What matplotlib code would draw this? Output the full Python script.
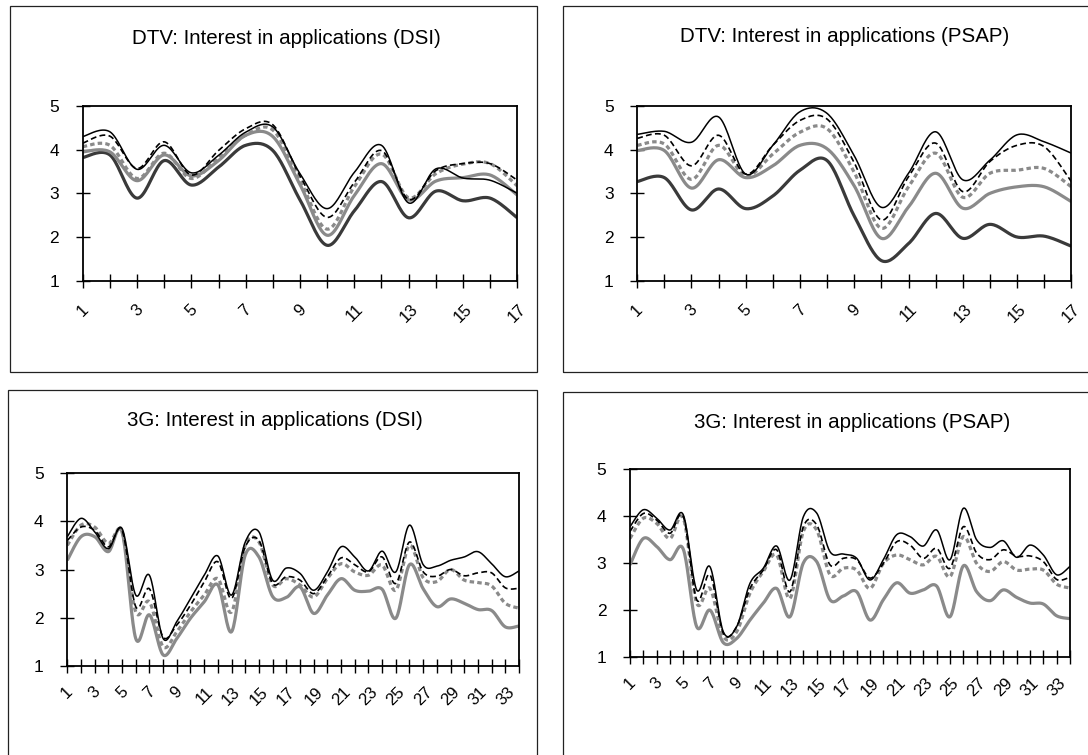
import numpy as np
import matplotlib
matplotlib.use("Agg")
import matplotlib.pyplot as plt
from matplotlib.patches import Rectangle

plt.rcParams['font.family'] = ['Liberation Sans', 'DejaVu Sans']

W, H = 1088, 755

# ── data ──────────────────────────────────────────
dtv_x = list(range(1, 18))
g3_x = list(range(1, 35))

# DTV: Interest in applications (DSI)
dtv_dsi_a = [4.3, 4.41, 3.55, 4.1, 3.47, 3.87, 4.4, 4.52, 3.45, 2.65, 3.48, 4.1, 2.78, 3.56, 3.35, 3.3, 3.0]
dtv_dsi_b = [4.15, 4.31, 3.57, 4.18, 3.42, 3.98, 4.48, 4.57, 3.4, 2.45, 3.25, 3.98, 2.86, 3.52, 3.68, 3.68, 3.3]
dtv_dsi_c = [4.07, 4.1, 3.34, 3.92, 3.34, 3.82, 4.33, 4.45, 3.3, 2.18, 3.15, 3.9, 2.9, 3.45, 3.67, 3.68, 3.17]
dtv_dsi_d = [3.95, 3.95, 3.29, 3.88, 3.4, 3.75, 4.33, 4.3, 3.2, 2.04, 2.95, 3.68, 2.85, 3.28, 3.36, 3.42, 2.96]
dtv_dsi_e = [3.82, 3.88, 2.89, 3.75, 3.19, 3.6, 4.1, 3.98, 2.85, 1.81, 2.6, 3.27, 2.44, 3.05, 2.83, 2.89, 2.44]

# DTV: Interest in applications (PSAP)
dtv_psap_a = [4.35, 4.42, 4.17, 4.75, 3.44, 4.1, 4.87, 4.83, 3.86, 2.68, 3.46, 4.41, 3.31, 3.76, 4.34, 4.18, 3.92]
dtv_psap_b = [4.26, 4.33, 3.63, 4.33, 3.44, 4.1, 4.67, 4.7, 3.7, 2.39, 3.38, 4.15, 3.04, 3.73, 4.1, 4.07, 3.27]
dtv_psap_c = [4.1, 4.13, 3.32, 4.1, 3.4, 3.9, 4.4, 4.48, 3.48, 2.2, 3.15, 3.92, 2.91, 3.46, 3.53, 3.57, 3.15]
dtv_psap_d = [3.98, 3.98, 3.12, 3.77, 3.36, 3.63, 4.1, 4.02, 3.17, 1.97, 2.69, 3.46, 2.66, 3.0, 3.15, 3.15, 2.81]
dtv_psap_e = [3.27, 3.36, 2.62, 3.1, 2.65, 2.94, 3.53, 3.75, 2.48, 1.46, 1.85, 2.54, 1.97, 2.29, 2.0, 2.02, 1.79]

# 3G: Interest in applications (DSI)
g3_dsi_a = [3.68, 4.06, 3.78, 3.43, 3.85, 2.47, 2.88, 1.57, 1.92, 2.4, 2.88, 3.28, 2.47, 3.57, 3.78, 2.78, 3.03,
            2.92, 2.57, 2.95, 3.47, 3.26, 2.97, 3.38, 2.95, 3.92, 3.1, 3.07, 3.19, 3.26, 3.37, 3.12, 2.85, 2.97]
g3_dsi_b = [3.6, 3.88, 3.81, 3.47, 3.81, 2.23, 2.6, 1.6, 1.85, 2.26, 2.74, 3.16, 2.4, 3.47, 3.6, 2.71, 2.85,
            2.78, 2.5, 2.85, 3.24, 3.1, 2.95, 3.26, 2.71, 3.57, 2.95, 2.86, 3.0, 2.87, 2.93, 2.93, 2.62, 2.61]
g3_dsi_c = [3.5, 3.92, 3.88, 3.54, 3.78, 2.12, 2.33, 1.4, 1.71, 2.12, 2.47, 2.81, 2.12, 3.5, 3.57, 2.68, 2.81,
            2.68, 2.43, 2.81, 3.12, 2.95, 2.88, 3.09, 2.57, 3.5, 2.83, 2.75, 3.0, 2.78, 2.73, 2.66, 2.3, 2.2]
g3_dsi_d = [3.19, 3.68, 3.68, 3.37, 3.78, 1.57, 2.06, 1.23, 1.57, 1.99, 2.33, 2.68, 1.71, 3.3, 3.26, 2.44, 2.42,
            2.64, 2.09, 2.47, 2.81, 2.57, 2.55, 2.59, 1.99, 3.1, 2.6, 2.23, 2.39, 2.3, 2.17, 2.15, 1.81, 1.83]

# 3G: Interest in applications (PSAP)
g3_psap_a = [3.77, 4.13, 3.95, 3.7, 4.02, 2.43, 2.92, 1.54, 1.65, 2.57, 2.89, 3.36, 2.64, 3.98, 4.06, 3.24, 3.19,
             3.1, 2.64, 3.07, 3.6, 3.56, 3.36, 3.7, 3.07, 4.16, 3.49, 3.33, 3.47, 3.12, 3.38, 3.17, 2.75, 2.93]
g3_psap_b = [3.67, 4.05, 3.91, 3.63, 3.98, 2.22, 2.75, 1.51, 1.65, 2.46, 2.85, 3.28, 2.39, 3.77, 3.81, 2.96, 3.1,
             3.07, 2.68, 2.99, 3.45, 3.38, 3.1, 3.31, 2.89, 3.77, 3.21, 3.07, 3.28, 3.14, 3.15, 3.03, 2.65, 2.7]
g3_psap_c = [3.52, 3.95, 3.84, 3.52, 3.95, 2.15, 2.46, 1.44, 1.54, 2.36, 2.82, 3.17, 2.25, 3.67, 3.7, 2.75, 2.89,
             2.85, 2.46, 2.99, 3.17, 3.07, 2.96, 3.14, 2.71, 3.56, 2.99, 2.82, 3.03, 2.85, 2.87, 2.85, 2.55, 2.47]
g3_psap_d = [2.96, 3.52, 3.35, 3.07, 3.29, 1.65, 2.0, 1.31, 1.4, 1.79, 2.15, 2.46, 1.86, 3.0, 3.03, 2.22, 2.3,
             2.39, 1.79, 2.22, 2.58, 2.36, 2.43, 2.51, 1.86, 2.94, 2.39, 2.2, 2.43, 2.27, 2.15, 2.13, 1.88, 1.82]

titles = ["DTV: Interest in applications (DSI)", "DTV: Interest in applications (PSAP)",
          "3G: Interest in applications (DSI)", "3G: Interest in applications (PSAP)"]

# ── styles: thin black, black dashed, grey dashed, grey, dark grey ──
styles = [
    dict(color="black", lw=1.1),
    dict(color="black", lw=1.2, dashes=(3.5, 2.0)),
    dict(color="#8a8a8a", lw=2.3, dashes=(1.4, 1.0)),
    dict(color="#8a8a8a", lw=2.3),
    dict(color="#3a3a3a", lw=2.3),
]


def smooth(x, y, n=20):
    # Catmull-Rom curve through the points, like Excel's smoothed line
    x = np.asarray(x, float)
    y = np.asarray(y, float)
    px = np.concatenate([[x[0]], x, [x[-1]]])
    py = np.concatenate([[y[0]], y, [y[-1]]])
    xs, ys = [], []
    t = np.linspace(0, 1, n, endpoint=False)
    for i in range(1, len(px) - 2):
        for p, out in ((px, xs), (py, ys)):
            p0, p1, p2, p3 = p[i - 1], p[i], p[i + 1], p[i + 2]
            m1 = (p2 - p0) / 2
            m2 = (p3 - p1) / 2
            h00 = 2 * t**3 - 3 * t**2 + 1
            h10 = t**3 - 2 * t**2 + t
            h01 = -2 * t**3 + 3 * t**2
            h11 = t**3 - t**2
            out.append(h00 * p1 + h10 * m1 + h01 * p2 + h11 * m2)
    xs.append([x[-1]])
    ys.append([y[-1]])
    return np.concatenate(xs), np.concatenate(ys)


fig = plt.figure(figsize=(W / 100, H / 100), dpi=100)

# outer chart frames (pixels: x0, y0, x1, y1)
frames = [(10, 6, 537, 372), (563, 6, 1110, 372), (8, 390, 537, 800), (563, 392, 1110, 800)]
for x0, y0, x1, y1 in frames:
    fig.patches.append(Rectangle((x0 / W, 1 - y1 / H), (x1 - x0) / W, (y1 - y0) / H,
                                 transform=fig.transFigure, fill=False,
                                 edgecolor="#222222", lw=0.9))

# plot areas (pixels: left, right, top, bottom)
boxes = [(82.7, 517.3, 106, 280.7), (637.2, 1071.3, 106, 280.7),
         (67.3, 519, 473, 666), (630, 1070, 468.7, 657.3)]
title_pos = [(286, 39), (845, 37), (275, 421), (852, 423)]

panels = [
    (dtv_x, [dtv_dsi_a, dtv_dsi_b, dtv_dsi_c, dtv_dsi_d, dtv_dsi_e]),
    (dtv_x, [dtv_psap_a, dtv_psap_b, dtv_psap_c, dtv_psap_d, dtv_psap_e]),
    (g3_x, [g3_dsi_a, g3_dsi_b, g3_dsi_c, g3_dsi_d]),
    (g3_x, [g3_psap_a, g3_psap_b, g3_psap_c, g3_psap_d]),
]

for k, ((xs, series), (l, r, t, b)) in enumerate(zip(panels, boxes)):
    ax = fig.add_axes([l / W, 1 - b / H, (r - l) / W, (b - t) / H])
    order = list(range(len(series)))[::-1]
    for i in order:
        sx, sy = smooth(xs, series[i])
        ax.plot(sx, sy, solid_capstyle="butt", **styles[i])
    ax.set_xlim(xs[0], xs[-1])
    ax.set_ylim(1, 5)
    ax.set_yticks([1, 2, 3, 4, 5])
    ax.set_xticks(xs)
    ax.set_xticklabels([str(v) if v % 2 == 1 else "" for v in xs],
                       rotation=45, ha="center", va="top")
    for s in ax.spines.values():
        s.set_linewidth(1.3)
        s.set_color("black")
    xpad = 10 if k < 2 else 8
    ax.tick_params(axis="x", direction="inout", length=10, width=1.0, pad=xpad,
                   labelsize=12, top=False)
    ax.tick_params(axis="y", direction="inout", length=10, width=1.0, pad=12,
                   labelsize=12.5, right=False)
    fig.text(title_pos[k][0] / W, 1 - title_pos[k][1] / H, titles[k],
             ha="center", va="center", fontsize=14.8)

fig.savefig("out.png", dpi=100)
